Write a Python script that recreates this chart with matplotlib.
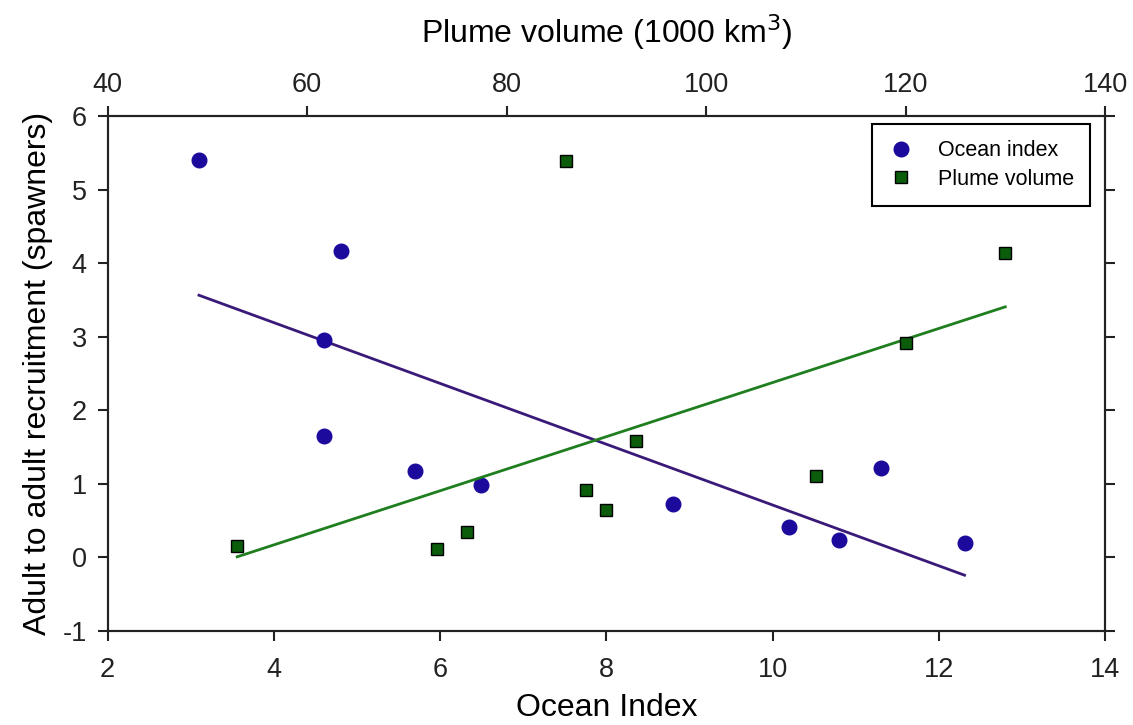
import numpy as np
import matplotlib.pyplot as plt

plt.rcParams['font.family'] = ['Liberation Sans', 'DejaVu Sans']
plt.rcParams['axes.unicode_minus'] = False

# Ocean index vs recruitment (bottom axis)
ocean_x = [3.10, 4.81, 4.60, 4.61, 5.70, 6.49, 8.80, 10.20, 10.80, 11.30, 12.31]
ocean_y = [5.40, 4.17, 2.95, 1.65, 1.18, 0.98, 0.72, 0.41, 0.24, 1.22, 0.19]

# Plume volume vs recruitment (top axis)
plume_x = [53.0, 73.0, 76.0, 86.0, 88.0, 90.0, 93.0, 111.0, 120.0, 130.0]
plume_y = [0.15, 0.11, 0.34, 5.39, 0.91, 0.64, 1.58, 1.11, 2.92, 4.14]

ocean_ticks = [2, 4, 6, 8, 10, 12, 14]
plume_ticks = [40, 60, 80, 100, 120, 140]
y_ticks = [-1, 0, 1, 2, 3, 4, 5, 6]

blue = '#1c0a9c'
purple = '#3a1a78'
dgreen = '#0b5c0b'
lgreen = '#1f7f1f'

fig = plt.figure(figsize=(11.33, 7.25), dpi=100)
ax = fig.add_axes([0.0949, 0.1297, 0.8804, 0.7103])
ax2 = ax.twiny()

# regression lines
ox = np.array(ocean_x)
oy = np.array(ocean_y)
m1, b1 = np.polyfit(ox, oy, 1)
xx = np.array([ox.min(), ox.max()])
ax.plot(xx, m1 * xx + b1, color=purple, lw=2)

px = np.array(plume_x)
py = np.array(plume_y)
m2, b2 = np.polyfit(px, py, 1)
pp = np.array([px.min(), px.max()])
ax2.plot(pp, m2 * pp + b2, color=lgreen, lw=2)

h1, = ax.plot(ocean_x, ocean_y, 'o', color=blue, ms=10.5, mec=blue, zorder=3)
h2, = ax2.plot(plume_x, plume_y, 's', color=dgreen, ms=9, mec='black', mew=1, zorder=3)

ax.set_xlim(2, 14)
ax.set_ylim(-1, 6)
ax2.set_xlim(40, 140)
ax.set_xticks(ocean_ticks)
ax.set_yticks(y_ticks)
ax2.set_xticks(plume_ticks)

for a in (ax, ax2):
    for s in a.spines.values():
        s.set_linewidth(1.5)
        s.set_color('#222222')

ax.tick_params(axis='both', direction='out', length=7, width=1.5, labelsize=19.5,
               right=True, labelright=False, colors='#222222')
ax.tick_params(axis='x', pad=12)
ax.tick_params(axis='y', pad=8)
ax2.tick_params(axis='x', direction='out', length=7, width=1.5, labelsize=19.5,
                colors='#222222', pad=6)

ax.set_xlabel('Ocean Index', fontsize=23, labelpad=7)
ax.set_ylabel('Adult to adult recruitment (spawners)', fontsize=23, labelpad=7)
ax2.set_xlabel('Plume volume (1000 km$^3$)', fontsize=23, labelpad=21)

leg = ax.legend([h1, h2], ['Ocean index', 'Plume volume'], loc='upper right',
                bbox_to_anchor=(0.985, 0.984), borderaxespad=0, fontsize=15.5,
                fancybox=False, edgecolor='black', framealpha=1,
                handlelength=1.2, handletextpad=1.1, borderpad=0.75, labelspacing=0.35)
leg.get_frame().set_linewidth(1.5)
leg.set_zorder(5)

fig.savefig('out.png', dpi=100)
